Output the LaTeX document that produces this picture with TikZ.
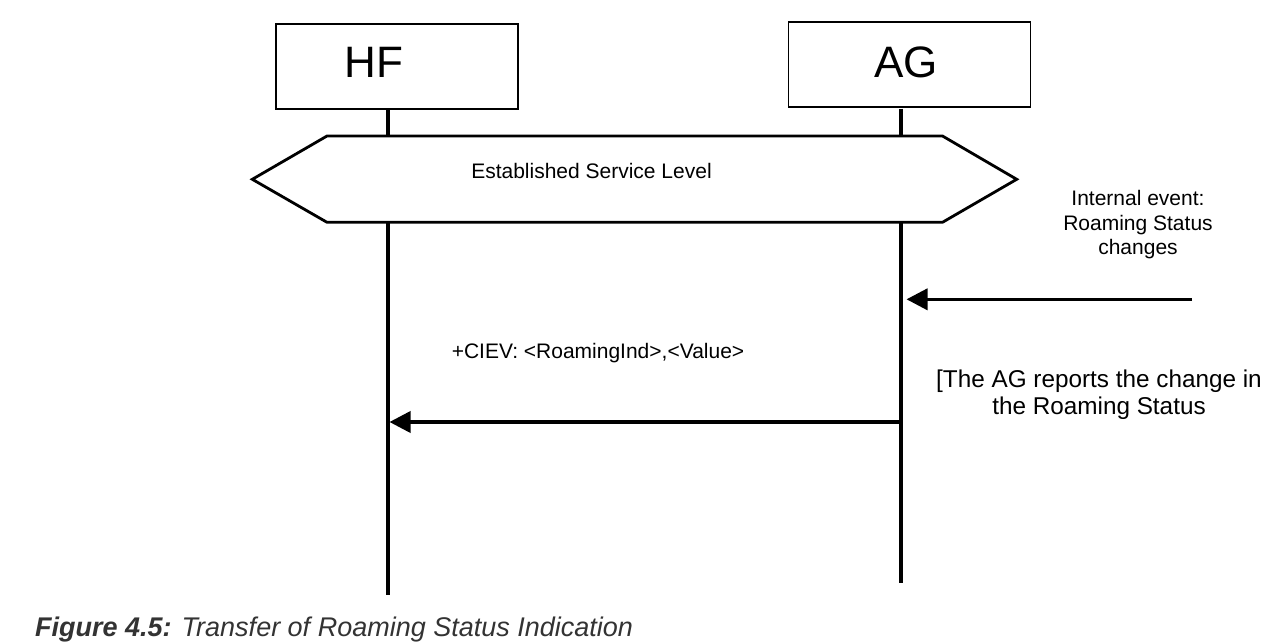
\documentclass[tikz,border=0pt]{standalone}
\usepackage{fontspec}
\setmainfont{Liberation Sans}
\usetikzlibrary{arrows.meta}
\begin{document}
\begin{tikzpicture}[x=1pt,y=-1pt,
  entity/.style={draw,line width=1.5pt,minimum width=242pt,minimum height=85pt,inner sep=0pt},
  lifeline/.style={line width=3.1pt},
  msg/.style={line width=3.6pt,-{Triangle[length=21pt,width=21pt]}},
  lbl/.style={font=\fontsize{21}{24.5}\selectfont,align=center,inner sep=0pt}]
\useasboundingbox (0,0) rectangle (1270,643);
\fill[white] (0,0) rectangle (1270,643);
% entity boxes
\node[entity] (hf) at (397,66.5) {};
\node[entity] (ag) at (909.3,64.5) {};
\node[font=\fontsize{44}{44}\selectfont,inner sep=0pt] (hft) at (374,62) {HF};
\node[font=\fontsize{44}{44}\selectfont,inner sep=0pt] (agt) at (906,62) {AG};
% lifeline anchors
\coordinate (hftop) at (388,108.5);
\coordinate (hfbot) at (388,595);
\coordinate (agtop) at (901,108.5);
\coordinate (agbot) at (901,583);
\draw[lifeline] (hftop) -- (hfbot);
\draw[lifeline] (agtop) -- (agbot);
% hexagon
\draw[line width=2.8pt,fill=white,line join=miter]
  (252.3,179.3) -- (327,136) -- (942.5,136) -- (1016.7,179.3) -- (942.5,222.3) -- (327,222.3) -- cycle;
\node[lbl] (esl) at (591.5,171) {Established Service Level};
% internal event
\node[lbl] (ie) at (1138,225) {Internal event:\\Roaming Status\\changes};
\coordinate (evsrc) at (1192,299.3);
\coordinate (evdst) at (906.5,299.3);
\draw[msg] (evsrc) -- (evdst);
% CIEV
\node[lbl] (ciev) at (598,353) {+CIEV: <RoamingInd>,<Value>};
\coordinate (cievsrc) at (901,422);
\coordinate (cievdst) at (389.5,422);
\draw[msg] (cievsrc) -- (cievdst);
\node[font=\fontsize{24.3}{27}\selectfont,align=center,inner sep=0pt] (rep) at (1099,395) {[The AG reports the change in\\the Roaming Status};
% caption
\node[anchor=base west,inner sep=0pt,text=black!80,font=\fontsize{27}{27}\selectfont] (cap) at (35,636)
  {\textbf{\textit{Figure 4.5:}} \textit{Transfer of Roaming Status Indication}};
\end{tikzpicture}
\end{document}
